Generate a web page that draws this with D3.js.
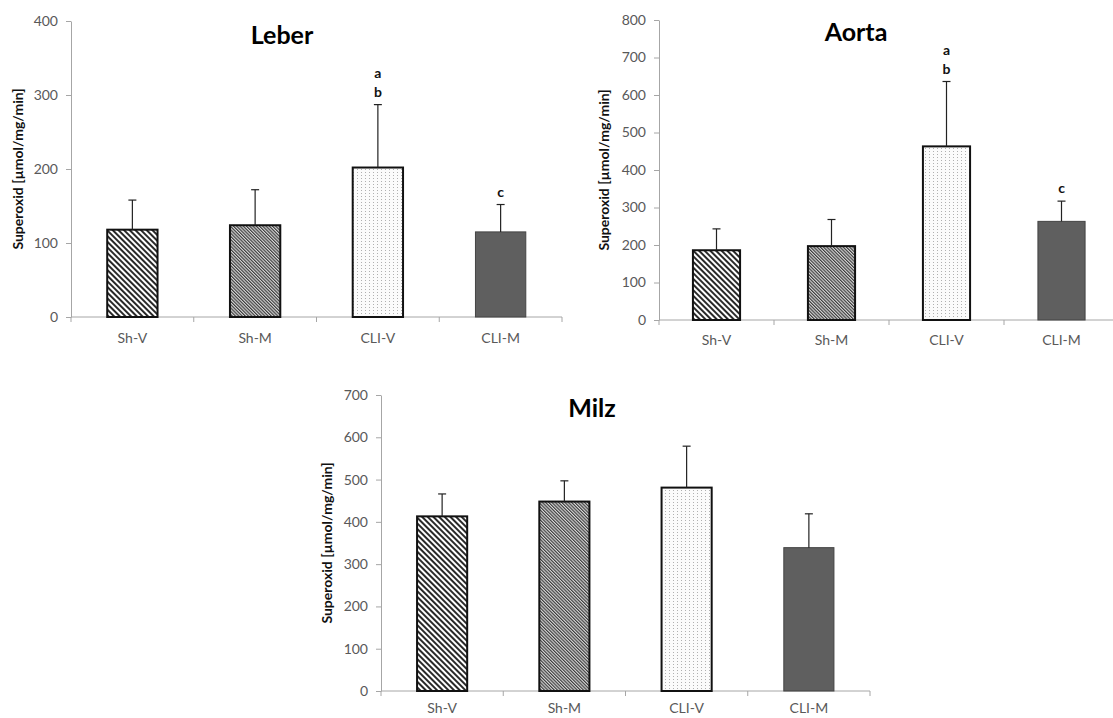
<!DOCTYPE html>
<html>
<head>
<meta charset="utf-8">
<script src="https://cdn.jsdelivr.net/npm/d3@7"></script>
<style>
  body { margin: 0; background: #fff; }
  svg text { font-family: Lato, "Open Sans", sans-serif; }
</style>
</head>
<body>
<div id="chart"></div>
<script>
// groups and values
const groups = ["Sh-V", "Sh-M", "CLI-V", "CLI-M"];

const leberMean = [118, 124, 202, 115];
const leberSD = [40, 48, 85, 37];
const leberSig = [[], [], ["a", "b"], ["c"]];
const leberTicks = [0, 100, 200, 300, 400];

const aortaMean = [186, 197, 463, 263];
const aortaSD = [57, 71, 173, 54];
const aortaSig = [[], [], ["a", "b"], ["c"]];
const aortaTicks = [0, 100, 200, 300, 400, 500, 600, 700, 800];

const milzMean = [413, 448, 481, 339];
const milzSD = [53, 49, 98, 80];
const milzSig = [[], [], [], []];
const milzTicks = [0, 100, 200, 300, 400, 500, 600, 700];

const yLabel = "Superoxid [µmol/mg/min]";

const svg = d3.select("#chart").append("svg")
  .attr("width", 1113)
  .attr("height", 718);

// fill patterns (Excel style)
const defs = svg.append("defs");

const wide = defs.append("pattern")
  .attr("id", "wideDiag")
  .attr("patternUnits", "userSpaceOnUse")
  .attr("width", 4).attr("height", 4)
  .attr("patternTransform", "rotate(-45)");
wide.append("rect").attr("width", 4).attr("height", 4).attr("fill", "#fff");
wide.append("line").attr("x1", 1).attr("y1", 0).attr("x2", 1).attr("y2", 4)
  .attr("stroke", "#111").attr("stroke-width", 1.8);

const dense = defs.append("pattern")
  .attr("id", "denseDiag")
  .attr("patternUnits", "userSpaceOnUse")
  .attr("width", 2.3).attr("height", 2.3)
  .attr("patternTransform", "rotate(-45)");
dense.append("rect").attr("width", 2.3).attr("height", 2.3).attr("fill", "#d8d8d8");
dense.append("line").attr("x1", 0.6).attr("y1", 0).attr("x2", 0.6).attr("y2", 2.3)
  .attr("stroke", "#333").attr("stroke-width", 1.1);

const dots = defs.append("pattern")
  .attr("id", "dots")
  .attr("patternUnits", "userSpaceOnUse")
  .attr("width", 4).attr("height", 3);
dots.append("rect").attr("width", 4).attr("height", 3).attr("fill", "#fbfbfb");
dots.append("rect").attr("x", 1).attr("y", 1).attr("width", 1).attr("height", 1).attr("fill", "#b0b0b0");

const fills = ["url(#wideDiag)", "url(#denseDiag)", "url(#dots)", "#5f5f5f"];
const strokes = ["#111", "#111", "#111", "#444"];
const strokeW = [2, 2, 2, 1];

function drawPanel(cfg) {
  const { title, mean, sd, sig, ticks, left, top, width, height, titleX, titleY, labelX, labelDy } = cfg;
  const g = svg.append("g");

  const x = d3.scaleBand()
    .domain(groups)
    .range([left, left + width])
    .paddingInner(0.59)
    .paddingOuter(0.295);

  const y = d3.scaleLinear()
    .domain([0, d3.max(ticks)])
    .range([top + height, top]);

  // y axis
  const yAxis = g.append("g")
    .attr("transform", `translate(${left},0)`)
    .call(d3.axisLeft(y).tickValues(ticks).tickSize(5).tickPadding(8).tickSizeOuter(0));
  yAxis.selectAll("line").attr("stroke", "#a6a6a6");
  yAxis.select(".domain").attr("stroke", "#a6a6a6");
  yAxis.selectAll("text")
    .attr("fill", "#595959")
    .style("font-size", "14px");

  // x axis with ticks on category boundaries
  const base = y(0);
  g.append("line")
    .attr("x1", left).attr("x2", left + width)
    .attr("y1", base).attr("y2", base)
    .attr("stroke", "#a6a6a6");
  g.selectAll(".xtick")
    .data(d3.range(groups.length + 1))
    .enter().append("line")
    .attr("x1", i => left + i * x.step())
    .attr("x2", i => left + i * x.step())
    .attr("y1", base).attr("y2", base + 5)
    .attr("stroke", "#a6a6a6");
  g.selectAll(".xlab")
    .data(groups)
    .enter().append("text")
    .attr("x", d => x(d) + x.bandwidth() / 2)
    .attr("y", base + labelDy)
    .attr("text-anchor", "middle")
    .attr("fill", "#595959")
    .style("font-size", "14px")
    .text(d => d);

  // bars
  const rows = groups.map((grp, i) => ({ grp, i, m: mean[i], e: sd[i], s: sig[i] }));
  g.selectAll(".bar")
    .data(rows)
    .enter().append("rect")
    .attr("x", d => x(d.grp))
    .attr("y", d => y(d.m))
    .attr("width", x.bandwidth())
    .attr("height", d => base - y(d.m))
    .attr("fill", d => fills[d.i])
    .attr("stroke", d => strokes[d.i])
    .attr("stroke-width", d => strokeW[d.i]);

  // upper error bars
  const cx = d => x(d.grp) + x.bandwidth() / 2;
  g.selectAll(".err")
    .data(rows)
    .enter().append("line")
    .attr("x1", cx).attr("x2", cx)
    .attr("y1", d => y(d.m)).attr("y2", d => y(d.m + d.e))
    .attr("stroke", "#222").attr("stroke-width", 1.2);
  g.selectAll(".cap")
    .data(rows)
    .enter().append("line")
    .attr("x1", d => cx(d) - 4).attr("x2", d => cx(d) + 4)
    .attr("y1", d => y(d.m + d.e)).attr("y2", d => y(d.m + d.e))
    .attr("stroke", "#222").attr("stroke-width", 1.2);

  // significance letters
  rows.forEach(d => {
    d.s.slice().reverse().forEach((letter, k) => {
      g.append("text")
        .attr("x", cx(d))
        .attr("y", y(d.m + d.e) - 8 - k * 19)
        .attr("text-anchor", "middle")
        .attr("font-weight", "bold")
        .attr("fill", "#111")
        .style("font-size", "14px")
        .text(letter);
    });
  });

  // title
  g.append("text")
    .attr("x", titleX)
    .attr("y", titleY)
    .attr("text-anchor", "middle")
    .attr("font-weight", "bold")
    .attr("fill", "#000")
    .style("font-size", "25px")
    .text(title);

  // y label
  g.append("text")
    .attr("transform", `translate(${labelX},${top + height / 2}) rotate(-90)`)
    .attr("text-anchor", "middle")
    .attr("dy", "0.35em")
    .attr("font-weight", "bold")
    .attr("fill", "#111")
    .style("font-size", "14px")
    .text(yLabel);
}

drawPanel({ title: "Leber", mean: leberMean, sd: leberSD, sig: leberSig, ticks: leberTicks,
  left: 71, top: 21, width: 491, height: 296, titleX: 282, titleY: 44, labelX: 18, labelDy: 26 });
drawPanel({ title: "Aorta", mean: aortaMean, sd: aortaSD, sig: aortaSig, ticks: aortaTicks,
  left: 659, top: 20, width: 460, height: 300, titleX: 856, titleY: 41, labelX: 604, labelDy: 25 });
drawPanel({ title: "Milz", mean: milzMean, sd: milzSD, sig: milzSig, ticks: milzTicks,
  left: 381, top: 395, width: 489, height: 296, titleX: 592, titleY: 417, labelX: 327, labelDy: 22 });
</script>
</body>
</html>
